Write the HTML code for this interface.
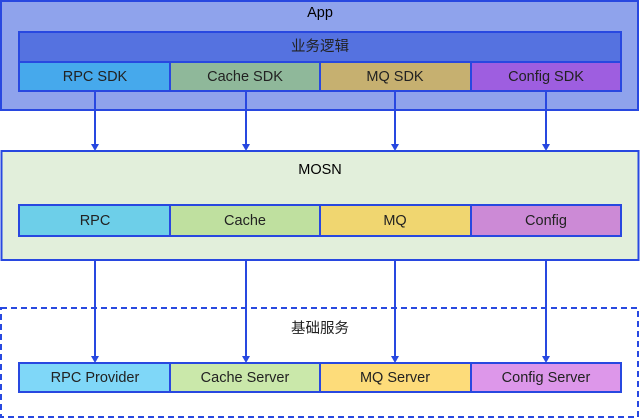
<!DOCTYPE html>
<html><head><meta charset="utf-8"><style>html,body{margin:0;padding:0;background:#fff}svg{display:block}text{font-family:"Liberation Sans","Noto Sans CJK SC",sans-serif;font-size:14.5px;fill:#222;text-anchor:middle;dominant-baseline:central}</style></head><body>
<svg width="640" height="418" viewBox="0 0 640 418" xmlns="http://www.w3.org/2000/svg">
<g stroke="#2848e0" stroke-width="2">
<rect x="1" y="1" width="637" height="109" fill="#8fa3ec"/>
<rect x="19" y="32" width="602" height="30" fill="#5572e0"/>
<rect x="19" y="62" width="151" height="29" fill="#46a9ec"/>
<rect x="170" y="62" width="150" height="29" fill="#8fb89a"/>
<rect x="320" y="62" width="151" height="29" fill="#c6b070"/>
<rect x="471" y="62" width="150" height="29" fill="#9e5ee0"/>
<rect x="1.5" y="151" width="637" height="109" fill="#e2efdb"/>
<rect x="19" y="205" width="151" height="31" fill="#6dcfe9"/>
<rect x="170" y="205" width="150" height="31" fill="#bfe09f"/>
<rect x="320" y="205" width="151" height="31" fill="#f0d670"/>
<rect x="471" y="205" width="150" height="31" fill="#cc8ad6"/>
<rect x="1" y="308" width="637" height="109" fill="none" stroke-dasharray="6,4"/>
<rect x="19" y="363" width="151" height="29" fill="#7fd7f8"/>
<rect x="170" y="363" width="150" height="29" fill="#cae8aa"/>
<rect x="320" y="363" width="151" height="29" fill="#fddc7a"/>
<rect x="471" y="363" width="150" height="29" fill="#dd97ea"/>
<g fill="none">
<line x1="95" y1="92" x2="95" y2="145"/>
<line x1="246" y1="92" x2="246" y2="145"/>
<line x1="395" y1="92" x2="395" y2="145"/>
<line x1="546" y1="92" x2="546" y2="145"/>
<line x1="95" y1="261" x2="95" y2="357"/>
<line x1="246" y1="261" x2="246" y2="357"/>
<line x1="395" y1="261" x2="395" y2="357"/>
<line x1="546" y1="261" x2="546" y2="357"/>
</g></g>
<g fill="#2848e0">
<path d="M91,144 L99,144 L95,151z"/><path d="M242,144 L250,144 L246,151z"/><path d="M391,144 L399,144 L395,151z"/><path d="M542,144 L550,144 L546,151z"/>
<path d="M91,356 L99,356 L95,363z"/><path d="M242,356 L250,356 L246,363z"/><path d="M391,356 L399,356 L395,363z"/><path d="M542,356 L550,356 L546,363z"/>
</g>
<text x="320" y="13" style="fill:#000">App</text>
<text x="320" y="47">业务逻辑</text>
<text x="95" y="77">RPC SDK</text><text x="245" y="77">Cache SDK</text><text x="395" y="77">MQ SDK</text><text x="546" y="77">Config SDK</text>
<text x="320" y="170" style="fill:#000">MOSN</text>
<text x="95" y="221">RPC</text><text x="245" y="221">Cache</text><text x="395" y="221">MQ</text><text x="546" y="221">Config</text>
<text x="320" y="329">基础服务</text>
<text x="95" y="378">RPC Provider</text><text x="245" y="378">Cache Server</text><text x="395" y="378">MQ Server</text><text x="546" y="378">Config Server</text>
</svg>
</body></html>
